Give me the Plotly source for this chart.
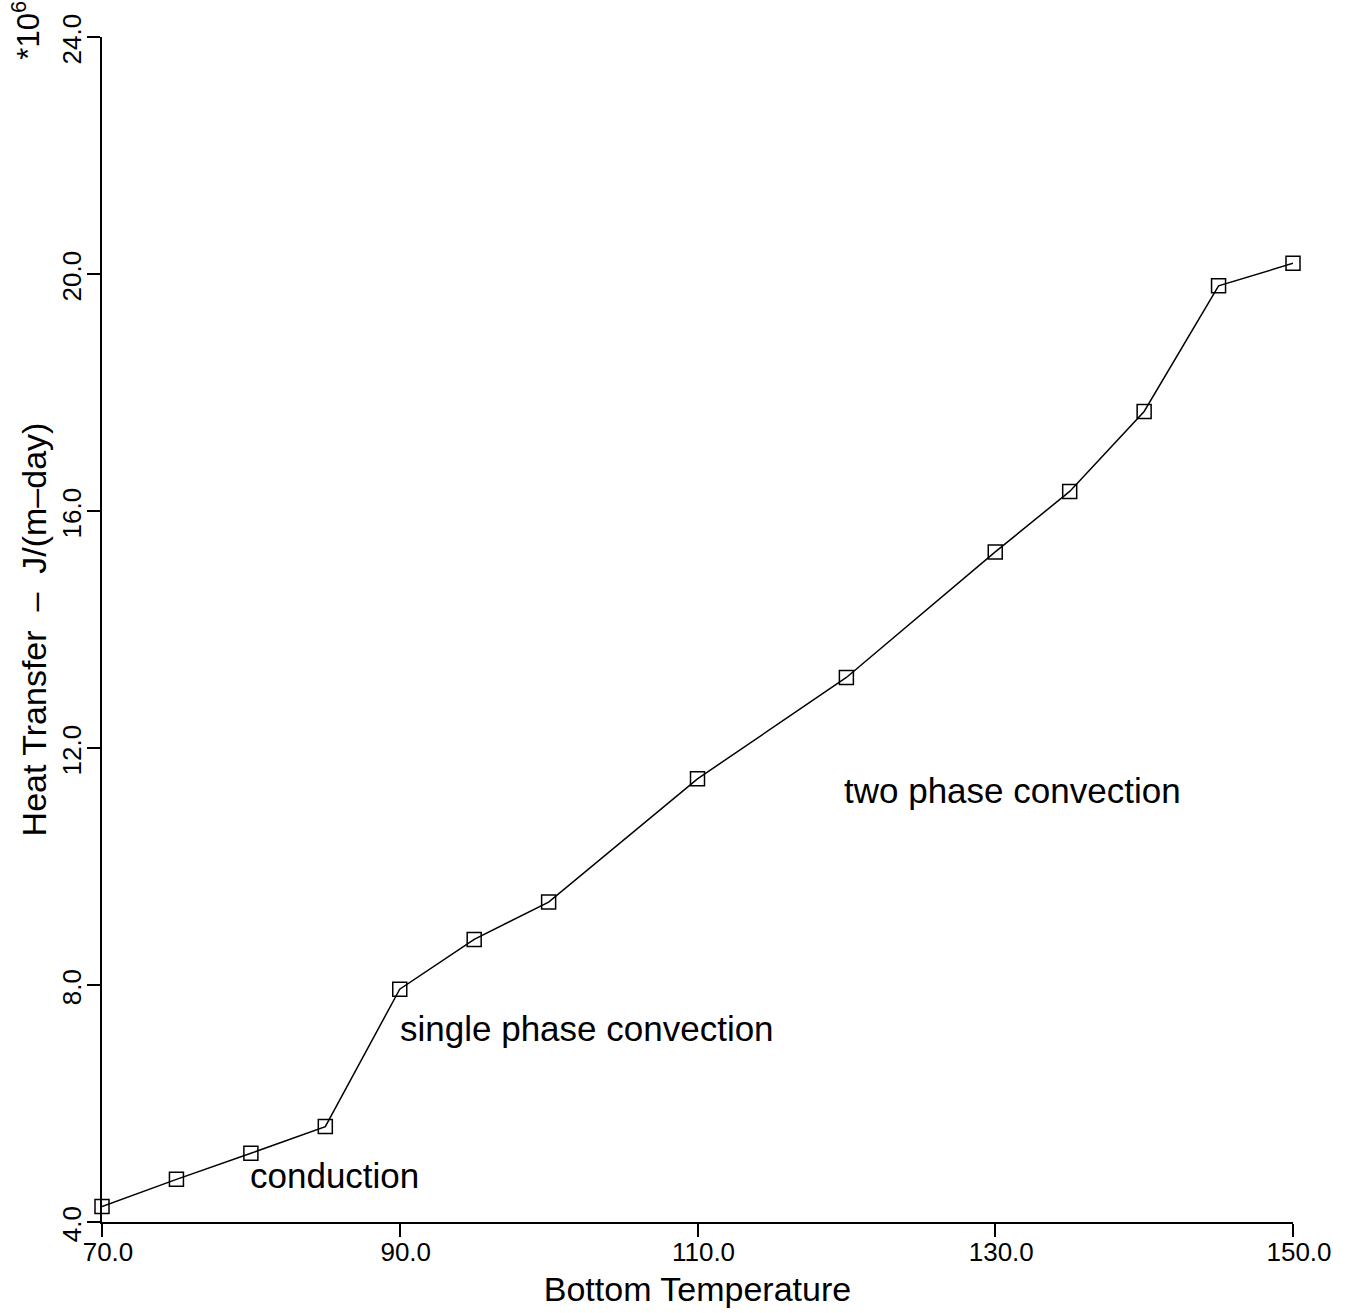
import plotly.graph_objects as go

# Data (heat transfer in units of 1e6 J/(m-day))
temperature = [70, 75, 80, 85, 90, 95, 100, 110, 120, 130, 135, 140, 145, 150]
heat_transfer = [4.26, 4.72, 5.16, 5.61, 7.93, 8.77, 9.40, 11.48, 13.19, 15.31, 16.33, 17.68, 19.80, 20.18]

x_ticks = [70, 90, 110, 130, 150]
x_tick_labels = ["70.0", "90.0", "110.0", "130.0", "150.0"]
y_ticks = [4, 8, 12, 16, 20, 24]
y_tick_labels = ["4.0", "8.0", "12.0", "16.0", "20.0", "24.0"]

regions = ["conduction", "single phase convection", "two phase convection"]
region_x = [79.8, 89.9, 119.7]
region_y = [4.79, 7.26, 11.29]

FONT = "Liberation Sans"

fig = go.Figure()
fig.add_trace(go.Scatter(
    x=temperature, y=heat_transfer,
    mode="lines+markers",
    line=dict(color="black", width=1.5),
    marker=dict(symbol="square-open", size=14, color="black", line=dict(width=1.5)),
    cliponaxis=False,
    showlegend=False,
))

for txt, xx, yy in zip(regions, region_x, region_y):
    fig.add_annotation(x=xx, y=yy, text=txt, showarrow=False, xanchor="left", yanchor="middle",
                       font=dict(family=FONT, size=35, color="black"))

fig.add_annotation(xref="paper", yref="paper", x=-0.064, y=1.006, text="*10<sup>6</sup>",
                   showarrow=False, textangle=-90, xanchor="center", yanchor="middle",
                   font=dict(family=FONT, size=31, color="black"))

fig.update_layout(
    width=1351, height=1313,
    margin=dict(l=102, r=58, t=37, b=91),
    paper_bgcolor="white", plot_bgcolor="white",
    font=dict(family=FONT, color="black"),
    xaxis=dict(
        range=[70, 150], tickvals=x_ticks, ticktext=x_tick_labels, automargin=False,
        showgrid=False, zeroline=False, showline=True, linecolor="black", linewidth=1.5,
        ticks="outside", ticklen=13, tickwidth=1.5, tickcolor="black",
        tickfont=dict(family=FONT, size=26), ticklabelshift=6, ticklabelstandoff=-7,
        title=dict(text="Bottom Temperature", font=dict(family=FONT, size=34), standoff=11),
    ),
    yaxis=dict(
        range=[4, 24], tickvals=y_ticks, ticktext=y_tick_labels, automargin=False,
        showgrid=False, zeroline=False, showline=True, linecolor="black", linewidth=1.5,
        ticks="outside", ticklen=13, tickwidth=1.5, tickcolor="black",
        tickangle=-90, tickfont=dict(family=FONT, size=26), ticklabelshift=6, ticklabelstandoff=-4,
        title=dict(text="Heat Transfer  \u2013  J/(m\u2013day)", font=dict(family=FONT, size=34), standoff=0),
    ),
)

fig.write_html("out.html")
